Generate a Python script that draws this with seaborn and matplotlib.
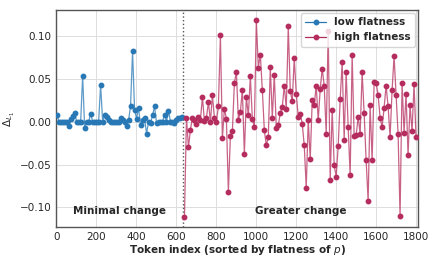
import numpy as np
import pandas as pd
import seaborn as sns
import matplotlib.pyplot as plt

# low flatness tokens (left of the split)
low_x = [3, 13, 23, 33, 43, 53, 63, 73, 83, 91, 101, 111, 121, 131, 141, 151, 161, 171,
         181, 191, 201, 211, 221, 231, 241, 251, 261, 271, 281, 291, 301, 311, 321, 331,
         341, 351, 361, 371, 381, 391, 401, 411, 421, 431, 441, 451, 461, 471, 481, 491,
         501, 511, 521, 531, 541, 551, 561, 571, 581, 591, 601, 611, 621, 631]
low_y = [0.0073, -0.0004, 0.0, 0.0, 0.0, -0.001, -0.0055, 0.0035, 0.006, 0.0105, 0.0, 0.0,
         0.0, 0.053, -0.007, 0.0, 0.0, 0.0093, 0.0, 0.0, 0.0, 0.0, 0.043, 0.0, 0.0073,
         0.0054, 0.0015, 0.0, 0.0, 0.0, 0.0, 0.0, 0.0042, 0.0015, 0.0, -0.0055, 0.0015,
         0.0186, 0.0818, 0.014, 0.0035, 0.0159, -0.0043, 0.0015, 0.0042, -0.014, -0.0005,
         -0.0016, 0.0073, 0.0178, -0.0016, -0.0005, 0.0, 0.0, 0.0081, 0.0, 0.0124, 0.0,
         0.0, -0.0012, 0.0015, 0.0042, 0.0042, 0.0054]

# high flatness tokens (right of the split)
high_y = [-0.1116, 0.0047, -0.030, -0.0093, 0.0047, 0.0023, -0.0023, 0.0058, 0.0023, 0.0286,
          0.0003, 0.0047, 0.0228, 0.0, 0.0306, 0.0047, 0.0, 0.0178, 0.1003, -0.0194,
          0.0151, 0.0035, -0.0818, -0.0171, -0.0113, 0.0449, 0.0577, 0.0023, 0.011, 0.037,
          -0.038, 0.029, 0.0073, 0.0527, 0.0035, -0.0063, 0.1178, 0.0628, 0.078, 0.037,
          -0.010, -0.0276, -0.018, 0.0635, 0.0043, 0.0547, -0.007, -0.0043, 0.010, 0.017,
          0.042, 0.015, 0.111, 0.036, 0.0236, 0.074, 0.0326, 0.0054, 0.0093, -0.0023,
          -0.0276, -0.077, 0.0015, -0.0438, 0.0248, 0.019, 0.042, 0.0015, 0.038, 0.0616,
          0.042, -0.014, 0.105, -0.068, 0.014, -0.051, -0.064, -0.0288, 0.026, 0.069,
          -0.021, 0.0577, -0.0063, -0.0624, 0.078, -0.017, -0.016, 0.0054, -0.014, 0.0577,
          0.010, -0.045, -0.0923, 0.019, -0.045, 0.046, 0.045, 0.0314, 0.0043, -0.0063,
          0.0159, 0.042, 0.0178, -0.018, 0.0364, 0.0763, 0.0314, -0.014, -0.110, 0.045,
          -0.013, 0.0326, -0.039, 0.019, -0.011, 0.0434, -0.018]
high_x = [641 + 10 * i for i in range(len(high_y))]

split_x = 634
blue = '#2878b5'
red = '#b52d5e'

sns.set_style('whitegrid')
plt.rcParams['font.family'] = ['DejaVu Sans']

fig = plt.figure(figsize=(4.39, 2.63), dpi=100)
ax = fig.add_axes([0.1287, 0.136, 0.824, 0.826])

low = pd.DataFrame({'x': low_x, 'y': low_y})
high = pd.DataFrame({'x': high_x, 'y': high_y})

for df, col, lab in [(low, blue, 'low flatness'), (high, red, 'high flatness')]:
    sns.lineplot(data=df, x='x', y='y', ax=ax, color=col, lw=0.9, alpha=0.75)
    ax.plot(df['x'], df['y'], 'o', color=col, ms=3.2, zorder=3)
    # legend proxy
    ax.plot([], [], '-o', color=col, ms=3.2, lw=0.9, label=lab)

ax.axvline(split_x, color='#555555', ls=':', lw=1.0)

ax.set_xlim(0, 1812)
ax.set_ylim(-0.123, 0.13)
ax.set_xticks(range(0, 1801, 200))
ax.set_yticks([-0.10, -0.05, 0.0, 0.05, 0.10])
ax.set_yticklabels(['\u22120.10', '\u22120.05', '0.00', '0.05', '0.10'])
ax.tick_params(labelsize=7.5, length=2, pad=1.5)
ax.grid(color='#dddddd', lw=0.7)
for s in ax.spines.values():
    s.set_color('#555555')
    s.set_linewidth(1.0)

ax.set_xlabel('Token index (sorted by flatness of $p$)', fontsize=7.5,
              fontweight='bold', labelpad=1)
ax.set_ylabel('$\\Delta_{L_1}$', fontsize=7.5, labelpad=2)

ax.text(317, -0.104, 'Minimal change', fontsize=7.5, fontweight='bold',
        ha='center', va='center')
ax.text(1222, -0.104, 'Greater change', fontsize=7.5, fontweight='bold',
        ha='center', va='center')

ax.legend(loc='upper right', prop={'size': 7.5, 'weight': 'bold'},
          framealpha=0.8, borderaxespad=0.3, handlelength=2.0)

fig.savefig('out.png', dpi=100)
